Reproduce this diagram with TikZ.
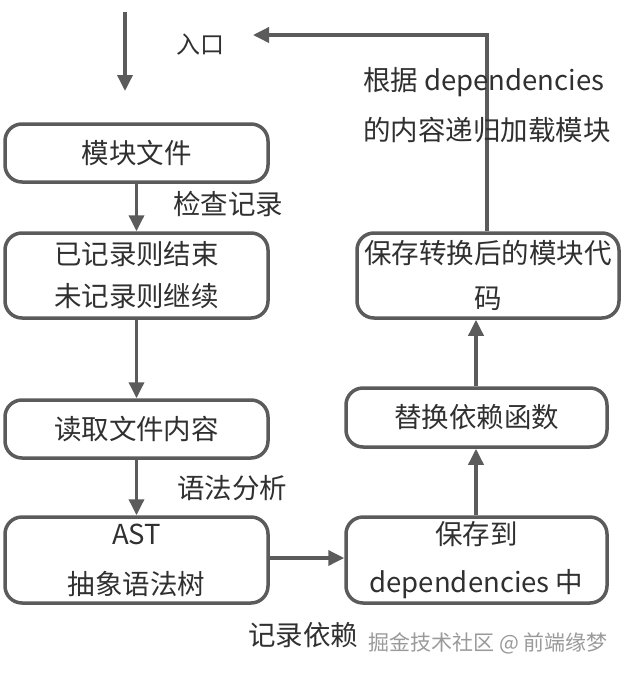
\documentclass[tikz,border=0pt]{standalone}
\usepackage{fontspec}
\setmainfont{Noto Sans CJK SC}
\usetikzlibrary{arrows.meta}
\definecolor{linegray}{HTML}{5B5B5B}
\definecolor{textgray}{HTML}{303030}
\definecolor{markgray}{HTML}{9A9A9A}
\begin{document}
\begin{tikzpicture}[x=1pt,y=-1pt,
  stepbox/.style={draw=linegray,line width=3.5pt,rounded corners=17pt,fill=white,
    text=textgray,align=center,inner sep=0pt,font=\fontsize{27.5}{45}\selectfont},
  flow/.style={draw=linegray,line width=3.5pt,-{Triangle[length=16pt,width=15pt]}},
  lbl/.style={text=textgray,inner sep=0pt,font=\fontsize{27.5}{50}\selectfont}]
\path[fill=white] (0,0) rectangle (628,673);
\useasboundingbox (0,0) rectangle (628,673);

\node[stepbox,minimum width=263pt,minimum height=58pt] (b1) at (136.5,153) {模块文件};
\node[stepbox,minimum width=263pt,minimum height=85pt,font=\fontsize{27.5}{42}\selectfont] (b2) at (136.5,275.5) {已记录则结束\\未记录则继续};
\node[stepbox,minimum width=263pt,minimum height=58pt] (b3) at (136.5,429) {读取文件内容};
\node[stepbox,minimum width=263pt,minimum height=86pt,font=\fontsize{27.5}{50}\selectfont] (b4) at (136.5,560) {AST\\抽象语法树};
\node[stepbox,minimum width=261pt,minimum height=86pt,font=\fontsize{27.5}{48}\selectfont] (b5) at (476.5,560) {保存到\\dependencies 中};
\node[stepbox,minimum width=261pt,minimum height=59pt] (b6) at (476.5,417.5) {替换依赖函数};
\node[stepbox,minimum width=262pt,minimum height=85pt] (b7) at (488,275.5) {保存转换后的模块代\\码};

\coordinate (inS) at (125,12);
\coordinate (inE) at (125,91);
\coordinate (retC) at (487,35);
\coordinate (retE) at (253,35);

\draw[flow] (inS) -- (inE);
\draw[flow] (b1) -- (b2);
\draw[flow] (b2) -- (b3);
\draw[flow] (b3) -- (b4);
\draw[flow] (b4.east |- 0,558) -- (b5.west |- 0,558);
\draw[flow] (b5.north -| 476,0) -- (b6.south -| 476,0);
\draw[flow] (b6.north -| 476,0) -- (b7.south -| 476,0);
\draw[flow] (b7.north -| retC) -- (retC) -- (retE);

\node[lbl,font=\fontsize{24}{30}\selectfont] (tin) at (200,45) {入口};
\node[lbl] (tcheck) at (228,204) {检查记录};
\node[lbl] (tparse) at (232,488) {语法分析};
\node[lbl] (trec) at (303,635) {记录依赖};
\node[lbl,anchor=west,align=left] (tdep) at (363,105) {根据 dependencies\\的内容递归加载模块};
\node[text=markgray,inner sep=0pt,font=\fontsize{21}{24}\selectfont] (wm) at (488,643) {掘金技术社区 @ 前端缘梦};
\end{tikzpicture}
\end{document}
